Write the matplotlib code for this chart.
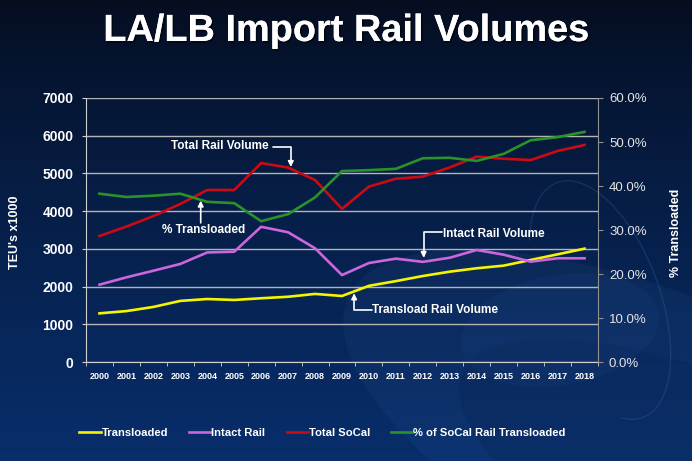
import numpy as np
import matplotlib
matplotlib.use('Agg')
import matplotlib.pyplot as plt
from matplotlib.patches import Ellipse, Arc
from matplotlib.ticker import PercentFormatter, FixedLocator
import matplotlib.patheffects as pe

# Chart data
years = [str(y) for y in range(2000, 2019)]
transloaded = [1290, 1350, 1460, 1620, 1670, 1645, 1690, 1730, 1805, 1750,
               2020, 2145, 2280, 2395, 2485, 2555, 2705, 2855, 3005]
intact_rail = [2050, 2245, 2420, 2600, 2905, 2925, 3585, 3440, 3015, 2305,
               2625, 2740, 2655, 2765, 2970, 2845, 2660, 2750, 2750]
total_socal = [3340, 3590, 3870, 4190, 4560, 4560, 5275, 5155, 4825, 4060,
               4650, 4860, 4915, 5160, 5445, 5390, 5355, 5595, 5755]
pct_transloaded = [0.3825, 0.375, 0.378, 0.3825, 0.364, 0.361, 0.320, 0.336, 0.374, 0.434,
                   0.436, 0.439, 0.463, 0.464, 0.457, 0.473, 0.504, 0.511, 0.523]

# Style
white = '#ffffff'
grid_color = '#b4b4b4'
yellow = '#f5f500'
violet = '#cc66dd'
red = '#cc0a14'
green = '#2a922a'
lw = 1.9
font = 'Liberation Sans'

plt.rcParams['font.family'] = font

fig = plt.figure(figsize=(6.92, 4.61), dpi=100)

# Background: dark navy gradient with soft swooshes
bg = fig.add_axes([0, 0, 1, 1], zorder=-10)
grad = np.linspace(0, 1, 256).reshape(-1, 1)
top = np.array([0.02, 0.05, 0.12])
bottom = np.array([0.03, 0.18, 0.42])
img = top + (bottom - top) * grad[..., None] ** 0.8
bg.imshow(img.reshape(256, 1, 3), aspect='auto', extent=[0, 692, 461, 0])
bg.add_patch(Ellipse((720, 470), 820, 300, angle=25, facecolor='#3a6ab0', alpha=0.10, lw=0))
bg.add_patch(Ellipse((780, 520), 700, 230, angle=25, facecolor='#06204f', alpha=0.25, lw=0))
bg.add_patch(Ellipse((560, 330), 200, 110, angle=-10, facecolor='#3a6ab0', alpha=0.08, lw=0))
bg.add_patch(Arc((600, 300), 120, 250, angle=-20, theta1=-120, theta2=100,
                 edgecolor='#3d6fb5', alpha=0.25, lw=1.0))
bg.set_xlim(0, 692)
bg.set_ylim(461, 0)
bg.axis('off')

ax = fig.add_axes([86 / 692, 99 / 461, 512 / 692, 264 / 461])
ax.patch.set_alpha(0)
x = np.arange(len(years))

l1, = ax.plot(x, transloaded, color=yellow, lw=lw, label='Transloaded', zorder=3)
l2, = ax.plot(x, intact_rail, color=violet, lw=lw, label='Intact Rail', zorder=3)
l3, = ax.plot(x, total_socal, color=red, lw=lw, label='Total SoCal', zorder=3)

ax.set_xlim(-0.5, len(years) - 0.5)
ax.set_ylim(0, 7000)
ax.set_yticks(range(0, 7001, 1000))
ax.set_xticks(x)
ax.set_xticklabels(years)
ax.xaxis.set_minor_locator(FixedLocator(np.arange(-0.5, len(years), 1)))
ax.tick_params(axis='x', which='major', length=0, pad=7, labelsize=6.5, labelcolor=white)
ax.tick_params(axis='x', which='minor', length=3, color='#d0d0d0', direction='out')
ax.tick_params(axis='y', length=3, color='#d0d0d0', pad=6, labelsize=10, labelcolor=white)
for lab in ax.get_xticklabels() + ax.get_yticklabels():
    lab.set_fontweight('bold')
ax.grid(axis='y', color=grid_color, lw=1)
ax.set_axisbelow(True)
for s in ['top', 'right']:
    ax.spines[s].set_visible(False)
ax.spines['left'].set_color('#d0d0d0')
ax.spines['bottom'].set_color('#d0d0d0')
ax.set_ylabel("TEU's x1000", color=white, fontsize=9, fontweight='bold')
ax.yaxis.set_label_coords(-0.127, 0.49)

ax2 = ax.twinx()
l4, = ax2.plot(x, pct_transloaded, color=green, lw=lw, label='% of SoCal Rail Transloaded', zorder=3)
ax2.set_ylim(0, 0.6)
ax2.set_yticks(np.arange(0, 0.61, 0.1))
ax2.yaxis.set_major_formatter(PercentFormatter(1.0, decimals=1))
ax2.tick_params(axis='y', length=3.6, color='#909090', pad=4.3, labelsize=9.5, labelcolor='#e4e4e4')
for s in ['top', 'left', 'bottom']:
    ax2.spines[s].set_visible(False)
ax2.spines['right'].set_color('#909090')
ax2.set_ylabel('% Transloaded', color=white, fontsize=9, fontweight='bold')
ax2.yaxis.set_label_coords(1.140, 0.49)

# Annotations with elbow arrows
note_kw = dict(color=white, fontsize=8.5, fontweight='bold', va='center')
arrow_kw = dict(arrowstyle='-|>', color=white, lw=1.2, mutation_scale=8, shrinkA=0, shrinkB=0)
elbow = 'angle,angleA=0,angleB=90,rad=0'

ax.text(6.29, 5728, 'Total Rail Volume', ha='right', **note_kw)
ax.annotate('', xy=(7.1, 5170), xytext=(6.44, 5710),
            arrowprops=dict(connectionstyle=elbow, **arrow_kw))

ax.text(3.87, 3500, '% Transloaded', ha='center', **note_kw)
ax.annotate('', xy=(3.757, 4280), xytext=(3.757, 3690), arrowprops=arrow_kw)

ax.text(12.75, 3402, 'Intact Rail Volume', ha='left', **note_kw)
ax.annotate('', xy=(12.03, 2760), xytext=(12.70, 3456),
            arrowprops=dict(connectionstyle=elbow, **arrow_kw))

ax.text(10.11, 1379, 'Transload Rail Volume', ha='left', **note_kw)
ax.annotate('', xy=(9.45, 1820), xytext=(10.11, 1379),
            arrowprops=dict(connectionstyle=elbow, **arrow_kw))

# Title
fig.text(0.5, 1 - 31 / 461, 'LA/LB Import Rail Volumes', ha='center', va='center',
         color=white, fontsize=27.3, fontweight='bold',
         path_effects=[pe.withSimplePatchShadow(offset=(1.2, -1.2), shadow_rgbFace='#000000', alpha=0.6),
                       pe.Normal()])

# Legend
leg = fig.legend(handles=[l1, l2, l3, l4], loc='center', bbox_to_anchor=(0.466, 1 - 433 / 461),
                 ncol=4, frameon=False, handlelength=1.9, handletextpad=0.05,
                 columnspacing=1.9, prop={'family': font, 'weight': 'bold', 'size': 8.1})
for t in leg.get_texts():
    t.set_color(white)

fig.savefig('out.png', dpi=100)
